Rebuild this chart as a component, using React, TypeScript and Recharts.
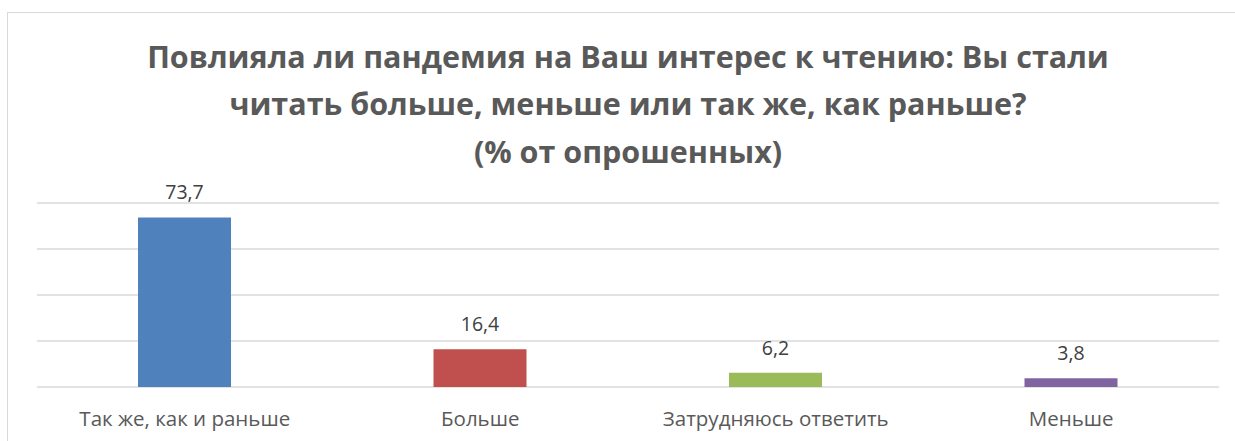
import React from "react";
import { BarChart, Bar, XAxis, YAxis, CartesianGrid, Cell, LabelList } from "recharts";

const categories = ["Так же, как и раньше", "Больше", "Затрудняюсь ответить", "Меньше"];
const values = [73.7, 16.4, 6.2, 3.8];
const colors = ["#4f81bd", "#c0504d", "#9bbb59", "#8064a2"];
const yTicks = [0, 20, 40, 60, 80];
const titleLines = [
  "Повлияла ли пандемия на Ваш интерес к чтению: Вы стали",
  "читать больше, меньше или так же, как раньше?",
  "(% от опрошенных)",
];

const data = categories.map((name, i) => ({ name, value: values[i] }));

export default function App() {
  return (
    <div
      style={{
        position: "absolute",
        left: 0,
        top: 0,
        width: 1235,
        height: 441,
        overflow: "hidden",
        background: "#fff",
        fontFamily: "'Open Sans', sans-serif",
      }}
    >
      <div
        style={{
          position: "absolute",
          left: 7,
          top: 12,
          width: 1300,
          height: 500,
          border: "1.5px solid #d9d9d9",
        }}
      />
      <div
        style={{
          position: "absolute",
          left: 0,
          width: 1256,
          top: 33,
          textAlign: "center",
          fontWeight: 700,
          fontSize: 30.5,
          lineHeight: "47.3px",
          color: "#595959",
        }}
      >
        {titleLines.map((t) => (
          <div key={t}>{t}</div>
        ))}
      </div>
      <div style={{ position: "absolute", left: 0, top: 0 }}>
        <BarChart
          width={1235}
          height={441}
          data={data}
          margin={{ top: 203, left: 37, right: 16, bottom: 0 }}
        >
          <CartesianGrid horizontal vertical={false} stroke="#d9d9d9" strokeWidth={1.5} />
          <XAxis
            dataKey="name"
            axisLine={false}
            tickLine={false}
            height={54}
            tickMargin={18}
            tick={{ fill: "#595959", fontSize: 20.5 }}
            interval={0}
          />
          <YAxis hide domain={[0, 80]} ticks={yTicks} />
          <Bar dataKey="value" barSize={93} isAnimationActive={false}>
            {data.map((d, i) => (
              <Cell key={d.name} fill={colors[i]} />
            ))}
            <LabelList
              dataKey="value"
              position="top"
              offset={18}
              fill="#404040"
              fontSize={19.5}
              formatter={(v: any) => String(v).replace(".", ",")}
            />
          </Bar>
        </BarChart>
      </div>
    </div>
  );
}
